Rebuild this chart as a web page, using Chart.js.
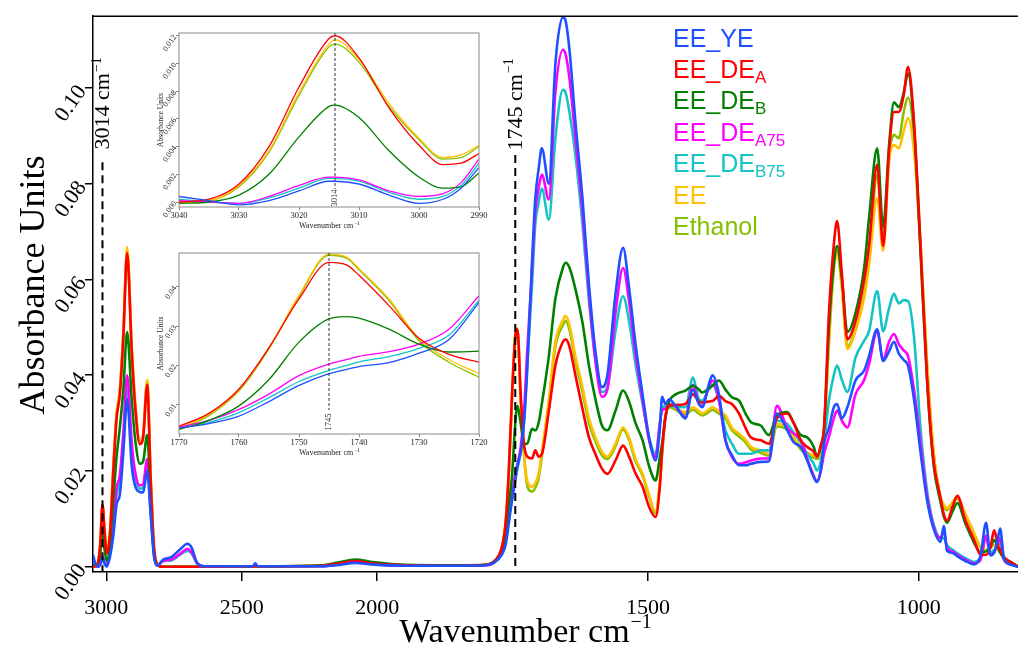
<!DOCTYPE html>
<html><head><meta charset="utf-8">
<script src="https://cdn.jsdelivr.net/npm/chart.js@4.4.0/dist/chart.umd.min.js"></script>
<style>
html,body{margin:0;padding:0;background:#fff;}
#wrap{position:relative;width:1018px;height:650px;overflow:hidden;background:#fff;}
canvas{position:absolute;}
</style></head><body>
<div id="wrap">
<canvas id="main" width="1018" height="650" style="left:0;top:0;width:1018px;height:650px"></canvas>
<canvas id="inset1" width="360" height="210" style="left:130px;top:25px;width:360px;height:210px"></canvas>
<canvas id="inset2" width="360" height="217" style="left:130px;top:245px;width:360px;height:217px"></canvas>
</div>
<script>
// ---------------- DATA ----------------
const wavenumbers = [3049,3040,3030,3022,3014,3006,2998,2986,2974,2962,2950,2937,2923,2906,2894,2876,2864,2849,2836,2824,2812,2790,2760,2730,2700,2685,2665,2640,2460,2450,2440,2200,2150,2080,2020,1950,1850,1800,1785,1770,1763,1757,1751,1745,1741,1735,1729,1723,1714,1708,1702,1696,1683,1671,1657,1652,1645,1634,1621,1609,1597,1585,1575,1560,1546,1535,1523,1510,1498,1486,1478,1474,1468,1461,1449,1431,1417,1406,1400,1388,1381,1369,1357,1345,1332,1320,1310,1292,1277,1262,1243,1231,1218,1206,1194,1188,1181,1175,1166,1157,1151,1142,1132,1117,1101,1092,1077,1066,1055,1046,1037,1028,1020,1009,997,985,973,960,954,948,938,929,914,898,886,876,868,861,854,850,843,831,817];

const EE_YE = [.0025,.0006,.0000,.0005,.0018,.0006,.0000,.0022,.0065,.0130,
.0150,.0240,.0350,.0210,.0170,.0156,.0155,.0200,.0110,.0022,
.0002,.0015,.0020,.0035,.0048,.0040,.0008,.0001,.0001,.0007,
.0001,.0001,.0003,.0008,.0005,.0002,.0002,.0003,.0008,.0025,
.0045,.0090,.0140,.0180,.0210,.0240,.0300,.0410,.0640,.0770,
.0830,.0874,.0800,.1050,.1148,.1140,.1080,.0930,.0770,.0590,
.0450,.0375,.0400,.0570,.0666,.0583,.0465,.0360,.0270,.0222,
.0290,.0355,.0340,.0350,.0336,.0310,.0370,.0340,.0333,.0380,
.0400,.0360,.0264,.0233,.0212,.0212,.0215,.0219,.0220,.0320,
.0285,.0260,.0250,.0222,.0187,.0177,.0202,.0257,.0290,.0333,
.0340,.0310,.0333,.0389,.0410,.0440,.0496,.0430,.0450,.0470,
.0445,.0432,.0420,.0350,.0240,.0140,.0080,.0052,.0085,.0033,
.0029,.0022,.0012,.0005,.0024,.0092,.0024,.0030,.0060,.0080,
.0018,.0005,.0000];

const EE_DE_A = [.0000,.0001,.0010,.0050,.0130,.0070,.0028,.0070,.0200,.0310,
.0360,.0480,.0655,.0450,.0340,.0256,.0270,.0380,.0180,.0040,
.0005,.0000,.0000,.0000,.0000,.0000,.0000,.0000,.0001,.0001,
.0001,.0002,.0006,.0012,.0007,.0003,.0002,.0004,.0010,.0040,
.0090,.0200,.0360,.0480,.0496,.0360,.0257,.0230,.0226,.0243,
.0230,.0235,.0326,.0420,.0470,.0475,.0460,.0400,.0330,.0270,
.0235,.0205,.0194,.0222,.0253,.0230,.0195,.0167,.0125,.0104,
.0170,.0240,.0312,.0336,.0338,.0340,.0360,.0345,.0343,.0345,
.0346,.0357,.0346,.0340,.0320,.0290,.0270,.0264,.0257,.0310,
.0320,.0300,.0264,.0250,.0240,.0230,.0255,.0290,.0530,.0673,
.0722,.0610,.0475,.0513,.0600,.0670,.0840,.0670,.0870,.0950,
.0950,.0985,.1044,.0930,.0670,.0396,.0222,.0144,.0110,.0096,
.0125,.0148,.0096,.0056,.0025,.0025,.0040,.0076,.0045,.0035,
.0020,.0010,.0000];

const EE_DE_B = [.0005,.0002,.0005,.0028,.0075,.0035,.0012,.0050,.0140,.0230,
.0290,.0370,.0490,.0350,.0270,.0215,.0220,.0275,.0140,.0030,
.0003,.0000,.0000,.0000,.0000,.0000,.0000,.0000,.0001,.0001,
.0001,.0003,.0008,.0015,.0010,.0004,.0003,.0004,.0010,.0035,
.0070,.0130,.0190,.0300,.0336,.0300,.0257,.0257,.0288,.0285,
.0300,.0340,.0440,.0560,.0625,.0635,.0625,.0580,.0510,.0420,
.0350,.0295,.0285,.0326,.0368,.0345,.0300,.0264,.0210,.0180,
.0230,.0257,.0310,.0345,.0360,.0368,.0378,.0370,.0364,.0372,
.0378,.0389,.0370,.0354,.0347,.0320,.0302,.0295,.0275,.0316,
.0323,.0300,.0275,.0270,.0250,.0230,.0250,.0290,.0499,.0630,
.0670,.0600,.0490,.0530,.0624,.0728,.0874,.0710,.0880,.0970,
.0960,.0990,.1030,.0920,.0658,.0390,.0215,.0135,.0105,.0092,
.0115,.0133,.0090,.0050,.0030,.0032,.0040,.0056,.0040,.0030,
.0018,.0010,.0000];

const EE_DE_A75 = [.0010,.0003,.0000,.0007,.0022,.0008,.0005,.0030,.0080,.0165,
.0190,.0280,.0400,.0260,.0200,.0170,.0172,.0225,.0120,.0030,
.0003,.0012,.0015,.0026,.0037,.0030,.0008,.0001,.0001,.0002,
.0001,.0001,.0005,.0010,.0006,.0002,.0002,.0003,.0008,.0030,
.0060,.0120,.0150,.0195,.0215,.0250,.0320,.0450,.0620,.0743,
.0790,.0819,.0767,.0990,.1080,.1070,.1020,.0895,.0743,.0570,
.0430,.0355,.0370,.0530,.0624,.0555,.0444,.0347,.0264,.0229,
.0300,.0326,.0330,.0340,.0335,.0312,.0380,.0340,.0336,.0375,
.0389,.0347,.0264,.0229,.0215,.0218,.0222,.0226,.0226,.0336,
.0290,.0278,.0265,.0225,.0190,.0177,.0200,.0236,.0271,.0310,
.0326,.0305,.0291,.0360,.0390,.0423,.0492,.0433,.0470,.0486,
.0465,.0452,.0440,.0370,.0260,.0150,.0085,.0060,.0075,.0040,
.0032,.0025,.0015,.0007,.0015,.0065,.0025,.0030,.0050,.0060,
.0015,.0005,.0000];

const EE_DE_B75 = [.0015,.0004,.0000,.0006,.0020,.0007,.0004,.0028,.0075,.0150,
.0180,.0260,.0370,.0240,.0190,.0163,.0165,.0210,.0110,.0025,
.0003,.0012,.0013,.0024,.0033,.0028,.0007,.0001,.0001,.0002,
.0001,.0001,.0005,.0010,.0006,.0002,.0002,.0003,.0008,.0028,
.0055,.0100,.0140,.0185,.0205,.0240,.0300,.0420,.0590,.0715,
.0760,.0790,.0725,.0895,.0996,.0990,.0950,.0860,.0715,.0555,
.0430,.0365,.0375,.0492,.0565,.0513,.0423,.0340,.0270,.0236,
.0300,.0333,.0335,.0335,.0335,.0333,.0395,.0350,.0347,.0370,
.0380,.0347,.0285,.0257,.0236,.0236,.0236,.0243,.0243,.0305,
.0298,.0280,.0260,.0236,.0215,.0201,.0220,.0260,.0347,.0400,
.0420,.0390,.0365,.0437,.0472,.0492,.0576,.0492,.0540,.0570,
.0550,.0557,.0555,.0480,.0290,.0160,.0090,.0060,.0060,.0045,
.0036,.0028,.0018,.0010,.0020,.0060,.0030,.0035,.0045,.0050,
.0015,.0005,.0000];

const EE = [.0000,.0001,.0010,.0048,.0128,.0072,.0032,.0075,.0210,.0320,
.0370,.0490,.0668,.0460,.0350,.0262,.0275,.0390,.0190,.0045,
.0005,.0000,.0000,.0000,.0000,.0000,.0000,.0000,.0001,.0001,
.0001,.0002,.0006,.0011,.0006,.0003,.0002,.0004,.0010,.0040,
.0090,.0195,.0355,.0485,.0498,.0350,.0240,.0180,.0167,.0175,
.0194,.0240,.0350,.0470,.0515,.0524,.0505,.0440,.0375,.0310,
.0270,.0240,.0230,.0257,.0291,.0270,.0225,.0194,.0150,.0115,
.0180,.0240,.0315,.0338,.0332,.0323,.0333,.0325,.0320,.0328,
.0333,.0325,.0316,.0290,.0278,.0265,.0250,.0243,.0236,.0298,
.0291,.0271,.0250,.0238,.0233,.0230,.0240,.0280,.0465,.0620,
.0655,.0580,.0455,.0493,.0562,.0630,.0770,.0660,.0846,.0881,
.0874,.0910,.0937,.0868,.0670,.0430,.0243,.0146,.0130,.0122,
.0135,.0146,.0110,.0070,.0040,.0035,.0040,.0045,.0035,.0030,
.0020,.0010,.0000];

const Ethanol = [.0000,.0001,.0010,.0046,.0125,.0070,.0031,.0072,.0205,.0315,
.0365,.0485,.0662,.0455,.0345,.0258,.0272,.0385,.0185,.0042,
.0005,.0000,.0000,.0000,.0000,.0000,.0000,.0000,.0001,.0001,
.0001,.0002,.0006,.0011,.0007,.0003,.0002,.0004,.0010,.0037,
.0088,.0190,.0350,.0480,.0495,.0345,.0235,.0170,.0157,.0165,
.0185,.0230,.0340,.0460,.0505,.0513,.0495,.0430,.0365,.0300,
.0262,.0233,.0225,.0252,.0287,.0265,.0220,.0190,.0146,.0112,
.0175,.0235,.0310,.0333,.0328,.0318,.0328,.0320,.0316,.0323,
.0328,.0320,.0310,.0285,.0272,.0260,.0245,.0238,.0232,.0293,
.0286,.0266,.0245,.0233,.0228,.0225,.0235,.0275,.0475,.0630,
.0660,.0585,.0460,.0495,.0570,.0645,.0818,.0690,.0860,.0902,
.0895,.0950,.0980,.0900,.0680,.0420,.0240,.0143,.0126,.0118,
.0132,.0142,.0108,.0068,.0040,.0035,.0040,.0045,.0035,.0030,
.0020,.0010,.0000];

const xTickValues = [3000, 2500, 2000, 1500, 1000];
const yTickValues = [0.00, 0.02, 0.04, 0.06, 0.08, 0.10];
const markerWavenumbers = [3014, 1745];

const legendBase = ['EE_YE', 'EE_DE', 'EE_DE', 'EE_DE', 'EE_DE', 'EE', 'Ethanol'];
const legendSub  = ['', 'A', 'B', 'A75', 'B75', '', ''];

// inset 1 (3014 band)
const inset1Wn = [3040,3035,3030,3025,3020,3015,3014,3010,3005,3000,2996,2993,2990];
const inset1_EE_YE     = [.0004,.0001,-.0002,.0001,.0008,.0015,.0015,.0013,.0005,-.0001,.0002,.0010,.0025];
const inset1_EE_DE_A   = [.0000,.0002,.0013,.0040,.0083,.0118,.0120,.0104,.0068,.0041,.0027,.0028,.0035];
const inset1_EE_DE_B   = [-.0001,.0000,.0005,.0020,.0047,.0069,.0070,.0061,.0037,.0018,.0010,.0011,.0021];
const inset1_EE_DE_A75 = [.0001,.0000,-.0001,.0004,.0012,.0018,.0018,.0016,.0008,.0004,.0006,.0014,.0031];
const inset1_EE_DE_B75 = [.0002,.0000,-.0001,.0003,.0010,.0017,.0017,.0015,.0007,.0002,.0004,.0012,.0028];
const inset1_EE        = [.0000,.0001,.0012,.0037,.0079,.0114,.0117,.0103,.0071,.0046,.0032,.0034,.0041];
const inset1_Ethanol   = [.0000,.0001,.0011,.0036,.0077,.0112,.0114,.0101,.0069,.0045,.0031,.0032,.0040];
const inset1XTicks = [3040, 3030, 3020, 3010, 3000, 2990];
const inset1YTicks = [0.000, 0.002, 0.004, 0.006, 0.008, 0.010, 0.012];

// inset 2 (1745 band)
const inset2Wn = [1770,1765,1760,1755,1750,1745,1742,1740,1735,1730,1725,1720];
const inset2_EE_YE     = [.0041,.0052,.0071,.0108,.0149,.0179,.0190,.0197,.0207,.0231,.0266,.0360];
const inset2_EE_DE_A   = [.0045,.0078,.0140,.0245,.0369,.0462,.0455,.0429,.0352,.0269,.0228,.0208];
const inset2_EE_DE_B   = [.0037,.0060,.0097,.0164,.0259,.0318,.0324,.0320,.0292,.0254,.0234,.0236];
const inset2_EE_DE_A75 = [.0043,.0060,.0088,.0127,.0174,.0203,.0215,.0223,.0235,.0254,.0292,.0377];
const inset2_EE_DE_B75 = [.0039,.0055,.0080,.0118,.0159,.0187,.0200,.0209,.0222,.0243,.0277,.0366];
const inset2_EE        = [.0041,.0075,.0138,.0245,.0378,.0483,.0475,.0446,.0369,.0267,.0215,.0179];
const inset2_Ethanol   = [.0038,.0072,.0135,.0242,.0375,.0480,.0472,.0443,.0365,.0262,.0208,.0170];
const inset2XTicks = [1770, 1760, 1750, 1740, 1730, 1720];
const inset2YTicks = [0.01, 0.02, 0.03, 0.04];

// ---------------- STYLE ----------------
const colors = ['#1f50ff', '#ff0000', '#008000', '#ff00ff', '#14c4c4', '#ffc000', '#86c000'];
const SERIF = '"Liberation Serif", "Times New Roman", serif';
const SANS = '"Liberation Sans", Arial, sans-serif';

// ---------------- split wavenumber scale (above 2000 cm-1 compressed x2) ----------------
const BREAK = 2000;
function fwd(v) { return v > BREAK ? BREAK + (v - BREAK) / 2 : v; }
function inv(u) { return u > BREAK ? BREAK + (u - BREAK) * 2 : u; }
class SplitScale extends Chart.LinearScale {
  getPixelForValue(v) {
    if (v === null || v === undefined || isNaN(v)) return NaN;
    const a = fwd(this.min), b = fwd(this.max);
    return this.getPixelForDecimal((fwd(v) - a) / (b - a));
  }
  getValueForPixel(p) {
    const a = fwd(this.min), b = fwd(this.max);
    return inv(a + this.getDecimalForPixel(p) * (b - a));
  }
}
SplitScale.id = 'split';
SplitScale.defaults = {};
Chart.register(SplitScale);

function textWithSup(ctx, base, sup, cx, baseline, size, supSize, family, align) {
  ctx.font = size + 'px ' + family;
  const w1 = ctx.measureText(base).width;
  ctx.font = supSize + 'px ' + family;
  const w2 = ctx.measureText(sup).width;
  const start = align === 'left' ? cx : cx - (w1 + w2) / 2;
  ctx.textAlign = 'left';
  ctx.textBaseline = 'alphabetic';
  ctx.font = size + 'px ' + family;
  ctx.fillText(base, start, baseline);
  ctx.font = supSize + 'px ' + family;
  ctx.fillText(sup, start + w1 + 1, baseline - size * 0.4);
}

const mainSeries = [EE_YE, EE_DE_A, EE_DE_B, EE_DE_A75, EE_DE_B75, EE, Ethanol];

const mainDecor = {
  id: 'mainDecor',
  afterDraw(chart) {
    const { ctx, chartArea: a, scales: { x, y } } = chart;
    ctx.save();
    ctx.fillStyle = '#000';
    ctx.strokeStyle = '#000';
    // top frame line
    ctx.lineWidth = 1.5;
    ctx.beginPath(); ctx.moveTo(a.left, a.top); ctx.lineTo(a.right, a.top); ctx.stroke();
    // dashed markers
    const lineTops = [0.0845, 0.086];
    const textCenters = [0.0967, 0.0965];
    markerWavenumbers.forEach((wn, i) => {
      const px = x.getPixelForValue(wn);
      ctx.setLineDash([8, 5]);
      ctx.lineWidth = 2;
      ctx.beginPath(); ctx.moveTo(px, y.getPixelForValue(lineTops[i])); ctx.lineTo(px, a.bottom); ctx.stroke();
      ctx.setLineDash([]);
      ctx.save();
      ctx.translate(px, y.getPixelForValue(textCenters[i]));
      ctx.rotate(-Math.PI / 2);
      textWithSup(ctx, wn + ' cm', '\u22121', 0, 7, 22, 14, SERIF, 'center');
      ctx.restore();
    });
    // axis titles
    ctx.save();
    ctx.translate(32, 285);
    ctx.rotate(-Math.PI / 2);
    ctx.font = '36px ' + SERIF;
    ctx.textAlign = 'center';
    ctx.textBaseline = 'alphabetic';
    ctx.fillText('Absorbance Units', 0, 12);
    ctx.restore();
    textWithSup(ctx, 'Wavenumber cm', '\u22121', 525, 642, 34, 20, SERIF, 'center');
    // legend
    legendBase.forEach((t, i) => {
      ctx.fillStyle = colors[i];
      const yb = 46.5 + 31.4 * i;
      ctx.font = '25px ' + SANS;
      ctx.textAlign = 'left';
      ctx.textBaseline = 'alphabetic';
      ctx.fillText(t, 673, yb);
      if (legendSub[i]) {
        const w = ctx.measureText(t).width;
        ctx.font = '17px ' + SANS;
        ctx.fillText(legendSub[i], 673 + w, yb + 5);
      }
    });
    ctx.restore();
  }
};

new Chart(document.getElementById('main'), {
  type: 'line',
  data: {
    datasets: mainSeries.map((vals, i) => ({
      label: legendBase[i] + legendSub[i],
      data: wavenumbers.map((w, j) => ({ x: w, y: vals[j] })),
      borderColor: colors[i],
      borderWidth: 2.6,
      pointRadius: 0,
      fill: false,
      cubicInterpolationMode: 'monotone'
    }))
  },
  options: {
    responsive: false,
    animation: false,
    events: [],
    layout: { padding: { top: 14, right: 0, left: 0, bottom: 0 } },
    plugins: { legend: { display: false }, tooltip: { enabled: false } },
    scales: {
      x: {
        type: 'split', min: 817, max: 3049, reverse: true,
        afterBuildTicks: s => { s.ticks = xTickValues.map(v => ({ value: v })); },
        afterFit: s => { s.height = 78; },
        grid: { display: true, drawOnChartArea: false, drawTicks: true, tickLength: 9, color: '#000', lineWidth: 1.5 },
        border: { display: true, color: '#000', width: 1.5 },
        ticks: { autoSkip: false, minRotation: 0, maxRotation: 0, padding: 14, color: '#000',
                 font: { family: SERIF, size: 22 }, callback: v => String(v) }
      },
      y: {
        min: -0.0011, max: 0.115,
        afterBuildTicks: s => { s.ticks = yTickValues.map(v => ({ value: v })); },
        afterFit: s => { s.width = 93; },
        grid: { display: true, drawOnChartArea: false, drawTicks: true, tickLength: 8, color: '#000', lineWidth: 1.5 },
        border: { display: true, color: '#000', width: 1.5 },
        ticks: { minRotation: 55, maxRotation: 55, padding: 3, color: '#000',
                 font: { family: SERIF, size: 22 }, callback: v => v.toFixed(2) }
      }
    }
  },
  plugins: [mainDecor]
});

// ---------------- insets ----------------
function makeInset(id, wn, series, xmin, xmax, ymin, ymax, xTicks, yTicks, yDec, marker, lineGap, textGap) {
  const decor = {
    id: 'insetDecor' + id,
    afterDraw(chart) {
      const { ctx, chartArea: a, scales: { x } } = chart;
      ctx.save();
      ctx.strokeStyle = '#8a8a8a';
      ctx.lineWidth = 1;
      ctx.strokeRect(a.left, a.top, a.right - a.left, a.bottom - a.top);
      const px = x.getPixelForValue(marker);
      ctx.strokeStyle = '#333';
      ctx.setLineDash([3, 2]);
      ctx.beginPath(); ctx.moveTo(px, a.top); ctx.lineTo(px, a.bottom - lineGap); ctx.stroke();
      ctx.setLineDash([]);
      ctx.fillStyle = '#222';
      ctx.save();
      ctx.translate(px, a.bottom - textGap);
      ctx.rotate(-Math.PI / 2);
      ctx.font = '8.5px ' + SERIF;
      ctx.textAlign = 'center';
      ctx.textBaseline = 'middle';
      ctx.fillText(String(marker), 0, 0);
      ctx.restore();
      // titles
      textWithSup(ctx, 'Wavenumber cm', '\u22121', (a.left + a.right) / 2, a.bottom + 21, 8, 5.5, SERIF, 'center');
      ctx.save();
      ctx.translate(31, (a.top + a.bottom) / 2);
      ctx.rotate(-Math.PI / 2);
      ctx.font = '7.5px ' + SERIF;
      ctx.textAlign = 'center';
      ctx.textBaseline = 'middle';
      ctx.fillText('Absorbance Units', 0, 0);
      ctx.restore();
      ctx.restore();
    }
  };
  return new Chart(document.getElementById(id), {
    type: 'line',
    data: {
      datasets: series.map((vals, i) => ({
        label: legendBase[i] + legendSub[i],
        data: wn.map((w, j) => ({ x: w, y: vals[j] })),
        borderColor: colors[i],
        borderWidth: 1.3,
        pointRadius: 0,
        fill: false,
        cubicInterpolationMode: 'monotone'
      }))
    },
    options: {
      responsive: false,
      animation: false,
      events: [],
      layout: { padding: { top: 8, right: 11, left: 0, bottom: 0 } },
      plugins: { legend: { display: false }, tooltip: { enabled: false } },
      scales: {
        x: {
          type: 'linear', min: xmin, max: xmax, reverse: true,
          afterBuildTicks: s => { s.ticks = xTicks.map(v => ({ value: v })); },
          afterFit: s => { s.height = 28; },
          grid: { display: true, drawOnChartArea: false, drawTicks: true, tickLength: 3, color: '#8a8a8a', lineWidth: 1 },
          border: { display: false },
          ticks: { autoSkip: false, minRotation: 0, maxRotation: 0, padding: 1, color: '#222',
                   font: { family: SERIF, size: 8.5 }, callback: v => String(v) }
        },
        y: {
          min: ymin, max: ymax,
          afterBuildTicks: s => { s.ticks = yTicks.map(v => ({ value: v })); },
          afterFit: s => { s.width = 49; },
          grid: { display: true, drawOnChartArea: false, drawTicks: true, tickLength: 3, color: '#8a8a8a', lineWidth: 1 },
          border: { display: false },
          ticks: { minRotation: 55, maxRotation: 55, padding: 1, color: '#222',
                   font: { family: SERIF, size: 8 }, callback: v => v.toFixed(yDec) }
        }
      }
    },
    plugins: [decor]
  });
}

makeInset('inset1', inset1Wn,
  [inset1_EE_YE, inset1_EE_DE_A, inset1_EE_DE_B, inset1_EE_DE_A75, inset1_EE_DE_B75, inset1_EE, inset1_Ethanol],
  2990, 3040, -0.00036, 0.0122, inset1XTicks, inset1YTicks, 3, 3014, 18, 9);

makeInset('inset2', inset2Wn,
  [inset2_EE_YE, inset2_EE_DE_A, inset2_EE_DE_B, inset2_EE_DE_A75, inset2_EE_DE_B75, inset2_EE, inset2_Ethanol],
  1720, 1770, 0.00255, 0.04857, inset2XTicks, inset2YTicks, 2, 1745, 24, 12);
</script>
</body></html>
